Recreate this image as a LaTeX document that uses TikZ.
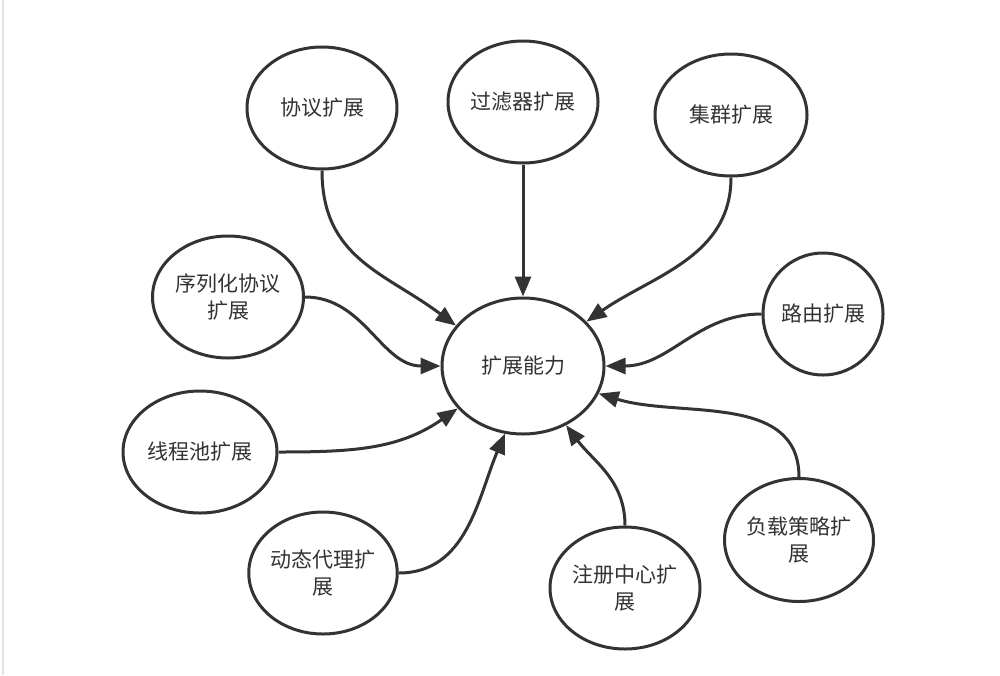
\documentclass[tikz,border=0pt]{standalone}
\usepackage{fontspec}
\newfontfamily\cjk{Noto Sans CJK SC}
\usetikzlibrary{shapes.geometric,arrows.meta}
\definecolor{ink}{HTML}{333333}
\definecolor{edge}{HTML}{DDE3EA}

\begin{document}
\begin{tikzpicture}[x=1pt,y=-1pt,
    bubble/.style={ellipse,draw=ink,line width=3pt,inner sep=0pt,
        minimum width=150pt,minimum height=122pt,align=center,text=ink,
        font=\cjk\fontsize{21}{27}\selectfont},
    link/.style={draw=ink,line width=3pt,-{Triangle[length=20pt,width=16pt]}}]
    \useasboundingbox (0,0) rectangle (1000,675);
    \draw[edge,line width=1.5pt] (3,0) -- (3,675);

    % centre
    \node[bubble,minimum width=162pt,minimum height=136pt] (core) at (523,366) {扩展能力};

    % top row
    \node[bubble] (xieyi) at (322,108) {协议扩展};
    \node[bubble] (guolv) at (523,102) {过滤器扩展};
    \node[bubble,minimum width=152pt] (jiqun) at (731,115) {集群扩展};

    % sides
    \node[bubble,minimum width=151pt] (xulie) at (228,297) {序列化协议\\扩展};
    \node[bubble,minimum width=120pt] (luyou) at (823,314) {路由扩展};
    \node[bubble,minimum width=154pt] (xiancheng) at (200,452) {线程池扩展};

    % bottom row
    \node[bubble,minimum width=148pt] (daili) at (323,573) {动态代理扩\\展};
    \node[bubble] (zhuce) at (625,588) {注册中心扩\\展};
    \node[bubble,minimum width=149pt,minimum height=123pt] (fuzai) at (799,540) {负载策略扩\\展};

    \draw[link] (xieyi.south) to[out=-90,in=143,looseness=1.1] (core.149);
    \draw[link] (guolv.south) -- (core.north);
    \draw[link] (jiqun.south) to[out=-90,in=35] (core.35);
    \draw[link] (xulie.east) to[out=0,in=180] (core.west);
    \draw[link] (luyou.west) to[out=180,in=0] (core.east);
    \draw[link] (xiancheng.east) to[out=0,in=215] (core.213);
    \draw[link] (daili.east) to[out=0,in=247] (core.255);
    \draw[link] (zhuce.north) to[out=90,in=307] (core.306);
    \draw[link] (fuzai.north) to[out=90,in=343] (core.340);
\end{tikzpicture}
\end{document}
